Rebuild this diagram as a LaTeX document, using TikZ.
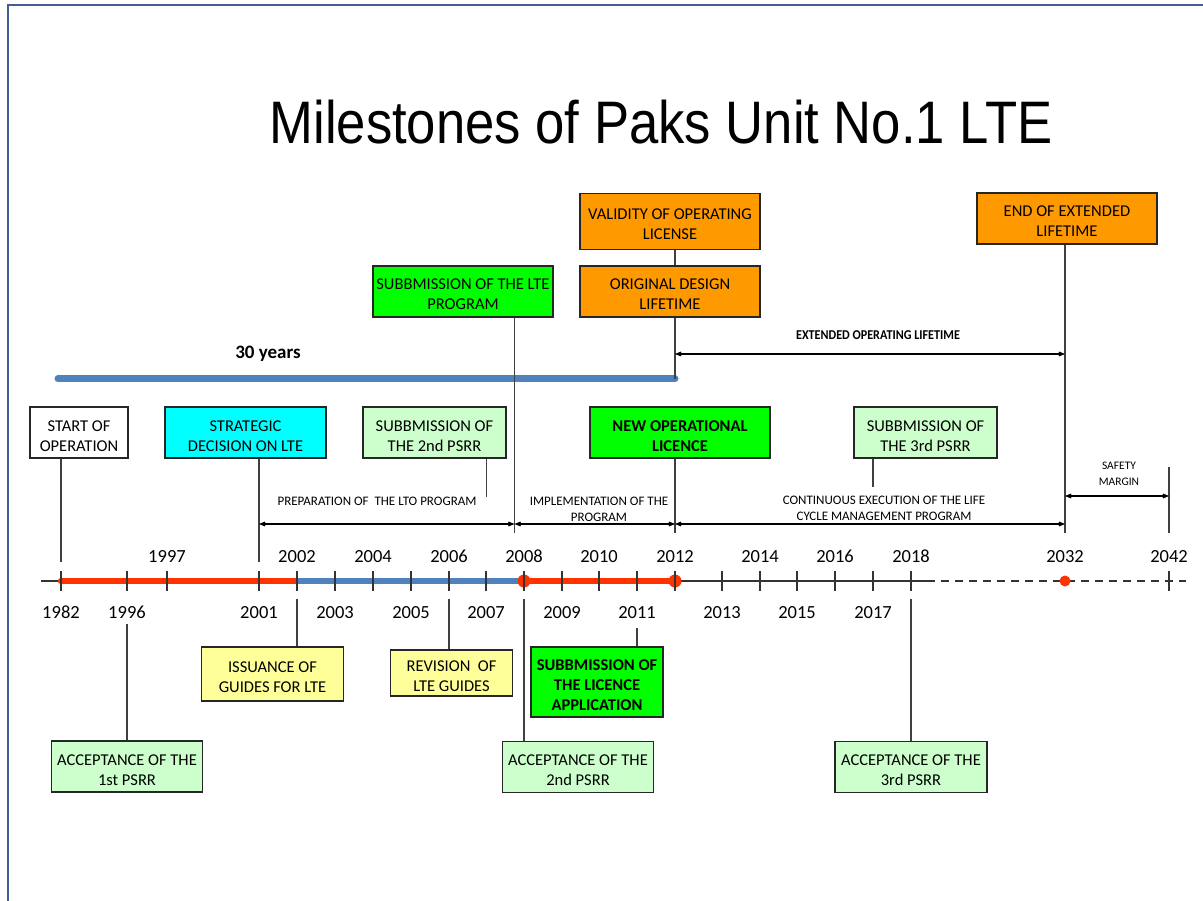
\documentclass[tikz,border=0pt]{standalone}
\usepackage{fontspec}
\usepackage{graphicx}
\setmainfont{Carlito}
\newfontfamily\titlefont{Liberation Sans}
\usetikzlibrary{arrows.meta}
\definecolor{orng}{HTML}{FF9900}
\definecolor{grn}{HTML}{00FF00}
\definecolor{lgrn}{HTML}{CCFFCC}
\definecolor{cyn}{HTML}{00FFFF}
\definecolor{ylw}{HTML}{FFFF99}
\definecolor{redl}{HTML}{FF3300}
\definecolor{bluel}{HTML}{4F81BD}
\definecolor{framec}{RGB}{65,95,145}
\definecolor{connc}{HTML}{404040}
\newcommand{\boxtext}[1]{\raisebox{-4.5pt}[\height][\depth]{\begin{tabular}{@{}c@{}}#1\end{tabular}}}
\begin{document}
\begin{tikzpicture}[x=1pt,y=-1pt,
  box/.style={draw=black!85, line width=1.3pt, inner sep=1pt, font=\fontsize{16.5}{20}\selectfont\renewcommand{\arraystretch}{1}},
  boldbox/.style={box, font=\fontsize{16.5}{20}\selectfont\bfseries},
  conn/.style={draw=connc, line width=1.2pt},
  dbl/.style={line width=1.5pt, {Stealth[length=11pt,width=9pt,inset=7pt]}-{Stealth[length=11pt,width=9pt,inset=7pt]}},
  yr/.style={font=\fontsize{18.5}{22}\selectfont, inner sep=0pt, anchor=base},
  smalllab/.style={font=\fontsize{13}{16}\selectfont, align=center, inner sep=0pt},
  tickline/.style={draw=black!80, line width=1.2pt},
]
\useasboundingbox (0,0) rectangle (1203,901);
% frame
\draw[framec, line width=2pt] (7.5,901) -- (7.5,5.5) -- (1203,5.5);
% title
\node[font=\titlefont\fontsize{60}{66}\selectfont, inner sep=0pt] (title) at (661,122) {\scalebox{0.877}[1]{Milestones of Paks Unit No.1 LTE}};

% top boxes
\node[box, fill=orng, minimum width=180pt, minimum height=56pt] (valid) at (670,221.5) {\boxtext{VALIDITY OF OPERATING\\LICENSE}};
\node[box, fill=orng, minimum width=180pt, minimum height=51pt] (orig) at (670,291.5) {\boxtext{ORIGINAL DESIGN\\LIFETIME}};
\node[box, fill=orng, minimum width=180pt, minimum height=51pt] (endext) at (1067,218.5) {\boxtext{END OF EXTENDED\\LIFETIME}};
\node[box, fill=grn, minimum width=180pt, minimum height=51pt] (ltep) at (463,291.5) {\boxtext{SUBBMISSION OF THE LTE\\PROGRAM}};

% middle boxes
\node[box, fill=white, minimum width=98pt, minimum height=51pt] (start) at (79,432.5) {\boxtext{START OF\\OPERATION}};
\node[box, fill=cyn, minimum width=161pt, minimum height=51pt] (strat) at (245.5,432.5) {\boxtext{STRATEGIC\\DECISION ON LTE}};
\node[box, fill=lgrn, minimum width=143pt, minimum height=51pt] (psrr2) at (434.5,432.5) {\boxtext{SUBBMISSION OF\\THE 2nd PSRR}};
\node[boldbox, fill=grn, minimum width=180pt, minimum height=51pt] (newop) at (680,432.5) {\boxtext{NEW OPERATIONAL\\LICENCE}};
\node[box, fill=lgrn, minimum width=143pt, minimum height=51pt] (psrr3) at (925.5,432.5) {\boxtext{SUBBMISSION OF\\THE 3rd PSRR}};

% bottom boxes
\node[box, fill=ylw, minimum width=142pt, minimum height=54pt] (issue) at (272.5,674) {\boxtext{ISSUANCE OF\\GUIDES FOR LTE}};
\node[box, fill=ylw, minimum width=122pt, minimum height=46pt] (rev) at (451.5,673) {\boxtext{REVISION\ \ OF\\LTE GUIDES}};
\node[boldbox, fill=grn, minimum width=132pt, minimum height=70pt] (licapp) at (597,682) {\boxtext{SUBBMISSION OF\\THE LICENCE\\APPLICATION}};
\node[box, fill=lgrn, minimum width=151pt, minimum height=51pt] (acc1) at (127,766.5) {\boxtext{ACCEPTANCE OF THE\\1st PSRR}};
\node[box, fill=lgrn, minimum width=151pt, minimum height=51pt] (acc2) at (578,767) {\boxtext{ACCEPTANCE OF THE\\2nd PSRR}};
\node[box, fill=lgrn, minimum width=152pt, minimum height=51pt] (acc3) at (911,767) {\boxtext{ACCEPTANCE OF THE\\3rd PSRR}};

% 30 years bar
\coordinate (bar30s) at (58,379);
\coordinate (bar30e) at (675,379);
\draw[bluel, line width=7pt, line cap=round] (bar30s) -- (bar30e);
\node[font=\fontsize{19}{22}\selectfont\bfseries, inner sep=0pt] (thirty) at (268,354) {30 years};

% connectors top
\draw[conn] (bar30e |- valid.south) -- (bar30e |- orig.north);
\draw[conn] (bar30e |- orig.south) -- (bar30e);
\coordinate (v514) at (514.5,533);
\draw[conn] (v514 |- ltep.south) -- (v514);
\coordinate (v1065) at (1065,533);
\draw[conn] (v1065 |- endext.south) -- (v1065);
\coordinate (v675) at (675,533);
\draw[conn] (v675 |- newop.south) -- (v675);
\coordinate (e1982) at (61,562);
\draw[conn] (e1982 |- start.south) -- (e1982);
\coordinate (e2001) at (259,562);
\draw[conn] (e2001 |- strat.south) -- (e2001);
\coordinate (p2007) at (486.5,497);
\draw[conn] (p2007 |- psrr2.south) -- (p2007);
\coordinate (p2017) at (873,487);
\draw[conn] (p2017 |- psrr3.south) -- (p2017);
\coordinate (v1169a) at (1169,467);
\coordinate (v1169b) at (1169,533);
\draw[conn] (v1169a) -- (v1169b);

% arrows
\coordinate (ext1) at (675,354);
\coordinate (ext2) at (1065,354);
\draw[dbl] (ext1) -- (ext2);
\node[font=\fontsize{13.5}{16}\selectfont\bfseries, inner sep=0pt] (extlab) at (878,335) {\scalebox{0.9}[1]{EXTENDED OPERATING LIFETIME}};
\coordinate (a259) at (259,524);
\coordinate (a514) at (514.5,524);
\coordinate (a675) at (675,524);
\coordinate (a1065) at (1065,524);
\draw[dbl] (a259) -- (a514);
\draw[dbl] (a514) -- (a675);
\draw[dbl] (a675) -- (a1065);
\coordinate (s1065) at (1065,496);
\coordinate (s1169) at (1169,496);
\draw[dbl] (s1065) -- (s1169);
\node[smalllab] (prep) at (377,501) {PREPARATION OF\ \ THE LTO PROGRAM};
\node[smalllab] (impl) at (599,509) {IMPLEMENTATION OF THE\\PROGRAM};
\node[smalllab] (cont) at (884,508) {CONTINUOUS EXECUTION OF THE LIFE\\CYCLE MANAGEMENT PROGRAM};
\node[smalllab, font=\fontsize{11.5}{15.5}\selectfont] (safe) at (1119,474) {SAFETY\\MARGIN};

% axis
\draw[black!80, line width=1.2pt] (41,581) -- (927,581);
\draw[black!80, line width=1.2pt, dash pattern=on 8pt off 6pt] (927,581) -- (1186,581);
\draw[redl, line width=6.5pt, line cap=round] (61,581) -- (297,581);
\draw[bluel, line width=6.5pt] (297,581) -- (524,581);
\draw[redl, line width=6.5pt] (524,581) -- (675,581);
\fill[redl] (524,581) circle (6.5pt);
\fill[redl] (675,581) circle (6.5pt);
\fill[redl] (1065,581) circle (5.5pt);

% ticks and year labels
\foreach \x/\n in {127/1996,259/2001,335/2003,411/2005,486/2007,562/2009,637/2011,722/2013,797/2015,873/2017} {
  \draw[tickline] (\x,571) -- (\x,591);
  \node[yr] at (\x,618) {\n};
}
\foreach \x/\n in {167/1997,297/2002,373/2004,449/2006,524/2008,599/2010,675/2012,760/2014,835/2016,911/2018,1169/2042} {
  \draw[tickline] (\x,571) -- (\x,591);
  \node[yr] at (\x,562) {\n};
}
\draw[tickline] (61,571) -- (61,591);
\node[yr] at (61,618) {1982};
\node[yr] at (1065,562) {2032};

% bottom connectors
\coordinate (b1996) at (127,624);
\draw[conn] (b1996) -- (b1996 |- acc1.north);
\coordinate (b2002) at (297,599);
\draw[conn] (b2002) -- (b2002 |- issue.north);
\coordinate (b2006) at (449,599);
\draw[conn] (b2006) -- (b2006 |- rev.north);
\coordinate (b2008) at (524,599);
\draw[conn] (b2008) -- (b2008 |- acc2.north);
\coordinate (b2011) at (637,628);
\draw[conn] (b2011) -- (b2011 |- licapp.north);
\coordinate (b2018) at (911,599);
\draw[conn] (b2018) -- (b2018 |- acc3.north);
\end{tikzpicture}
\end{document}
